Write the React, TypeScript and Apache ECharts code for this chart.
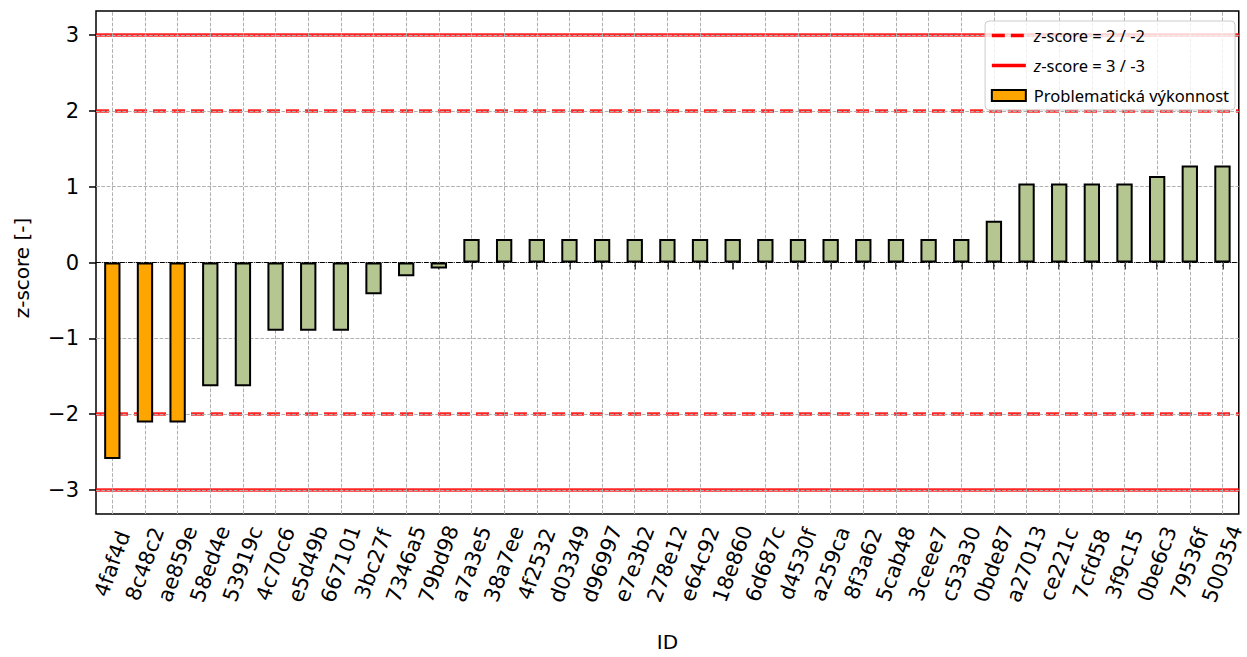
import React, { useEffect, useRef } from "react";
import * as echarts from "echarts";

const CATEGORIES: string[] = [
  "4faf4d", "8c48c2", "ae859e", "58ed4e", "53919c", "4c70c6", "e5d49b", "667101",
  "3bc27f", "7346a5", "79bd98", "a7a3e5", "38a7ee", "4f2532", "d03349", "d96997",
  "e7e3b2", "278e12", "e64c92", "18e860", "6d687c", "d4530f", "a259ca", "8f3a62",
  "5cab48", "3ceee7", "c53a30", "0bde87", "a27013", "ce221c", "7cfd58", "3f9c15",
  "0be6c3", "79536f", "500354",
];

const Z_VALUES: number[] = [
  -2.59, -2.11, -2.11, -1.63, -1.63, -0.9, -0.9, -0.9,
  -0.42, -0.18, -0.08, 0.31, 0.31, 0.31, 0.31, 0.31,
  0.31, 0.31, 0.31, 0.31, 0.31, 0.31, 0.31, 0.31,
  0.31, 0.31, 0.31, 0.55, 1.04, 1.04, 1.04, 1.04,
  1.14, 1.28, 1.28,
];

const Y_TICKS: number[] = [-3, -2, -1, 0, 1, 2, 3];
const WARN_LEVELS: number[] = [2, -2];
const CRIT_LEVELS: number[] = [3, -3];
const PROBLEM_THRESHOLD = -2;
const Y_MIN = -3.316;
const Y_MAX = 3.316;

const X_TITLE = "ID";
const Y_TITLE = "z-score [-]";
const LEGEND_WARN = "z-score = 2 / -2";
const LEGEND_CRIT = "z-score = 3 / -3";
const LEGEND_BAR = "Problematická výkonnost";

const ORANGE = "#ffa500";
const GREEN = "#b5c690";
const RED = "#ff0000";
const GRID_GREY = "#b0b0b0";
const FONT = "DejaVu Sans";

export default function App() {
  const ref = useRef<HTMLDivElement>(null);

  useEffect(() => {
    if (!ref.current) return;
    const chart = echarts.init(ref.current, undefined, { renderer: "svg" });

    const gridLines: any[] = [
      ...Y_TICKS.map((v) => ({
        yAxis: v,
        lineStyle: { color: GRID_GREY, width: 1, type: [3.7, 1.6] },
      })),
      ...CATEGORIES.map((c) => ({
        xAxis: c,
        lineStyle: { color: GRID_GREY, width: 1, type: [3.7, 1.6] },
      })),
      {
        yAxis: 0,
        lineStyle: { color: "#000", width: 1, type: [4.8, 1.2, 0.8, 1.2] },
      },
    ];

    const option: any = {
      animation: false,
      textStyle: { fontFamily: FONT },
      grid: {
        left: 96,
        right: 4,
        top: 11,
        bottom: 142,
        show: true,
        borderColor: "#000",
        borderWidth: 1.5,
        backgroundColor: "transparent",
      },
      graphic: [
        {
          type: "text",
          x: 22,
          y: 268,
          rotation: Math.PI / 2,
          silent: true,
          style: {
            text: Y_TITLE,
            fontSize: 20,
            fontFamily: FONT,
            fill: "#000",
            align: "center",
            verticalAlign: "middle",
          },
        },
      ],
      xAxis: {
        type: "category",
        data: CATEGORIES,
        name: X_TITLE,
        nameLocation: "middle",
        nameGap: 118,
        nameTextStyle: { fontSize: 20, color: "#000", fontFamily: FONT },
        axisLine: { show: false },
        axisTick: {
          show: true,
          alignWithLabel: true,
          length: 7,
          lineStyle: { color: "#000", width: 1.5 },
        },
        axisLabel: {
          interval: 0,
          rotate: 70,
          align: "center",
          verticalAlign: "middle",
          margin: 50,
          fontSize: 21,
          color: "#000",
          fontFamily: FONT,
        },
        splitLine: { show: false },
      },
      yAxis: {
        type: "value",
        min: Y_MIN,
        max: Y_MAX,
        axisLine: { show: false },
        axisTick: {
          show: true,
          customValues: Y_TICKS,
          length: 7,
          lineStyle: { color: "#000", width: 1.5 },
        },
        axisLabel: {
          customValues: Y_TICKS,
          fontSize: 21,
          margin: 17,
          color: "#000",
          fontFamily: FONT,
          formatter: (v: number) => (v < 0 ? "\u2212" + Math.abs(v) : String(v)),
        },
        splitLine: { show: false },
      },
      legend: {
        orient: "vertical",
        right: 12,
        top: 21,
        padding: [6, 6, 6, 5],
        itemGap: 13,
        itemWidth: 34,
        itemHeight: 11,
        backgroundColor: "rgba(255,255,255,0.8)",
        borderColor: "#cccccc",
        borderWidth: 1,
        borderRadius: 4,
        selectedMode: false,
        textStyle: {
          fontFamily: "Noto Sans",
          fontSize: 16.5,
          color: "#000",
          padding: [0, 0, 0, 3],
          rich: {
            it: { fontStyle: "italic", fontFamily: "Noto Sans", fontSize: 16.5, color: "#000" },
          },
        },
        formatter: (n: string) => (n.startsWith("z-") ? "{it|z}" + n.slice(1) : n),
        data: [
          {
            name: LEGEND_WARN,
            itemStyle: { opacity: 0 },
            lineStyle: { color: RED, width: 3.5, type: [13, 6] },
          },
          {
            name: LEGEND_CRIT,
            itemStyle: { opacity: 0 },
            lineStyle: { color: RED, width: 3.5, type: "solid" },
          },
          {
            name: LEGEND_BAR,
            icon: "rect",
            itemStyle: { color: ORANGE, borderColor: "#000", borderWidth: 2 },
          },
        ],
      },
      series: [
        {
          type: "line",
          name: LEGEND_WARN,
          data: [],
          symbol: "none",
          itemStyle: { color: RED },
          lineStyle: { color: RED, width: 3.5, type: [13, 6] },
          markLine: {
            silent: true,
            z: 1,
            symbol: ["none", "none"],
            label: { show: false },
            emphasis: { disabled: true },
            lineStyle: { color: RED, width: 3.5, type: [13, 6], opacity: 0.85 },
            data: WARN_LEVELS.map((v) => ({ yAxis: v })),
          },
        },
        {
          type: "line",
          name: LEGEND_CRIT,
          data: [],
          symbol: "none",
          itemStyle: { color: RED },
          lineStyle: { color: RED, width: 3.5, type: "solid" },
          markLine: {
            silent: true,
            z: 1,
            symbol: ["none", "none"],
            label: { show: false },
            emphasis: { disabled: true },
            lineStyle: { color: RED, width: 3.5, type: "solid", opacity: 0.85 },
            data: CRIT_LEVELS.map((v) => ({ yAxis: v })),
          },
        },
        {
          type: "line",
          name: "grid",
          data: [],
          symbol: "none",
          markLine: {
            silent: true,
            z: 2,
            symbol: ["none", "none"],
            label: { show: false },
            emphasis: { disabled: true },
            data: gridLines,
          },
        },
        {
          type: "bar",
          name: LEGEND_BAR,
          z: 3,
          barWidth: "50%",
          itemStyle: { color: ORANGE, borderColor: "#000", borderWidth: 2 },
          emphasis: { disabled: true },
          data: Z_VALUES.map((v) => ({
            value: v,
            itemStyle: { color: v < PROBLEM_THRESHOLD ? ORANGE : GREEN },
          })),
        },
      ],
    };

    chart.setOption(option);
    return () => chart.dispose();
  }, []);

  return <div ref={ref} style={{ width: 1247, height: 657, position: "absolute", left: 0, top: 0 }} />;
}
